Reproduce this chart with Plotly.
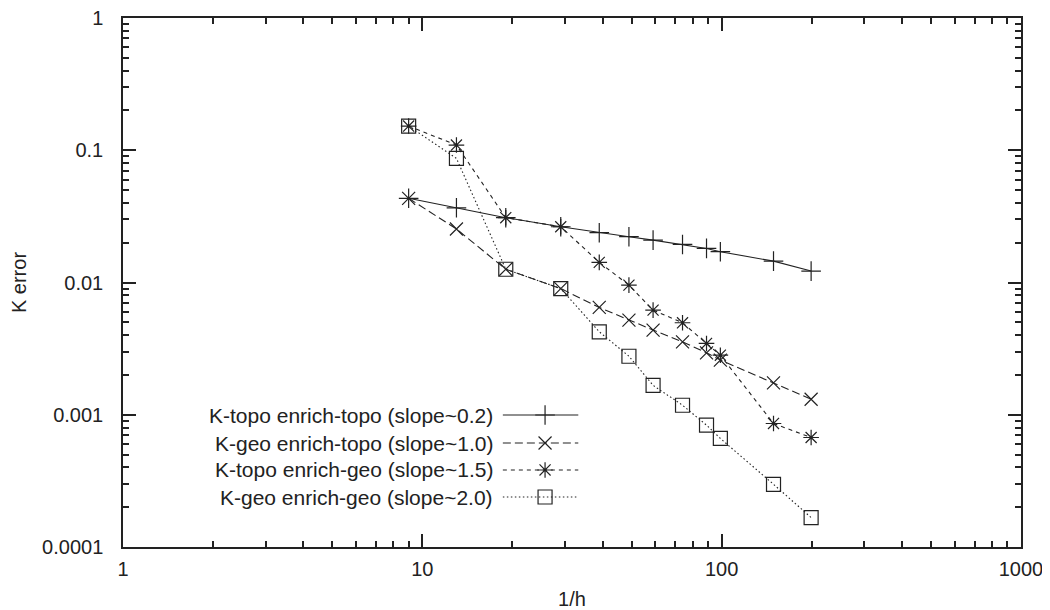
import plotly.graph_objects as go

inv_h = [9, 13, 19, 29, 39, 49, 59, 74, 89, 99, 149, 199]

topo_topo = [0.0433, 0.0367, 0.0309, 0.0264, 0.0238, 0.0222, 0.0209, 0.0194, 0.0181, 0.0171, 0.0145, 0.0122]
geo_topo = [0.0433, 0.0254, 0.0126, 0.0090, 0.00648, 0.0052, 0.00437, 0.00356, 0.00294, 0.00259, 0.00174, 0.00131]
topo_geo = [0.1524, 0.1095, 0.0309, 0.0264, 0.0142, 0.00956, 0.00618, 0.00496, 0.00346, 0.00282, 0.000859, 0.000673]
geo_geo = [0.1524, 0.0868, 0.0126, 0.0090, 0.00424, 0.00277, 0.00167, 0.00118, 0.000834, 0.000662, 0.000298, 0.000167]

names = [
    "K-topo enrich-topo (slope~0.2)",
    "K-geo enrich-topo (slope~1.0)",
    "K-topo enrich-geo (slope~1.5)",
    "K-geo enrich-geo (slope~2.0)",
]
series = [topo_topo, geo_topo, topo_geo, geo_geo]
symbols = ["cross-thin-open", "x-thin-open", "asterisk-open", "square-open"]
sizes = [14, 13, 13, 14]
dashes = ["solid", "8px,4px", "4px,4px", "1.5px,2.5px"]

y_ticks = [1, 0.1, 0.01, 0.001, 0.0001]
y_tick_text = ["1", "0.1", "0.01", "0.001", "0.0001"]
x_ticks = [1, 10, 100, 1000]
x_tick_text = ["1", "10", "100", "1000"]

INK = "#222222"
FONT = "Liberation Sans, Arial, Helvetica, sans-serif"

fig = go.Figure()
for name, ys, sym, sz, dash in zip(names, series, symbols, sizes, dashes):
    fig.add_trace(go.Scatter(
        x=inv_h, y=ys, name=name, mode="lines+markers",
        line=dict(color=INK, width=1.1, dash=dash),
        marker=dict(symbol=sym, size=sz, color=INK, line=dict(color=INK, width=1.2)),
        showlegend=False,
    ))

# custom legend (text right-aligned, sample on the right), on an overlay axis in plot fractions
leg_rows = [0.2495, 0.1966, 0.1456, 0.0945]
leg_line_x = [0.423, 0.507]
leg_mark_x = 0.470
leg_text_x = 0.414
for name, sym, sz, dash, yr in zip(names, symbols, sizes, dashes, leg_rows):
    fig.add_trace(go.Scatter(
        x=leg_line_x, y=[yr, yr], mode="lines", xaxis="x2", yaxis="y2",
        line=dict(color=INK, width=1.1, dash=dash), showlegend=False, hoverinfo="skip",
    ))
    fig.add_trace(go.Scatter(
        x=[leg_mark_x], y=[yr], mode="markers", xaxis="x2", yaxis="y2",
        marker=dict(symbol=sym, size=sz, color=INK, line=dict(color=INK, width=1.2)),
        showlegend=False, hoverinfo="skip",
    ))
    fig.add_annotation(
        x=leg_text_x, y=yr, xref="x2", yref="y2", text=name, showarrow=False,
        xanchor="right", yanchor="middle", font=dict(family=FONT, size=21, color=INK),
    )

minor_x = [k * 10 ** e for e in range(0, 3) for k in range(2, 10)]
minor_y = [k * 10.0 ** e for e in range(-4, 0) for k in range(2, 10)]

# page body has an 8px margin, so the figure is sized so its right/bottom edge meets the window edge
fig.update_layout(
    width=1042, height=602,
    margin=dict(l=115, r=29, t=10, b=63, autoexpand=False),
    plot_bgcolor="white", paper_bgcolor="white",
    font=dict(family=FONT, size=20, color=INK),
    xaxis=dict(
        type="log", range=[0, 3], tickmode="array", tickvals=x_ticks, ticktext=x_tick_text,
        ticks="inside", ticklen=13, tickwidth=1.5, tickcolor=INK,
        showline=True, linecolor=INK, linewidth=1.5, mirror="ticks",
        showgrid=False, zeroline=False, automargin=False,
        ticklabeloverflow="allow",
        minor=dict(tickmode="array", tickvals=minor_x, ticks="inside", ticklen=6,
                   tickwidth=1.5, tickcolor=INK, showgrid=False),
        title=dict(text="1/h", standoff=22, font=dict(size=20)),
        ticklabelstandoff=3,
    ),
    yaxis=dict(
        type="log", range=[-4, 0], tickmode="array", tickvals=y_ticks, ticktext=y_tick_text,
        ticks="inside", ticklen=13, tickwidth=1.5, tickcolor=INK,
        showline=True, linecolor=INK, linewidth=1.5, mirror="ticks",
        showgrid=False, zeroline=False, automargin=False,
        ticklabeloverflow="allow",
        minor=dict(tickmode="array", tickvals=minor_y, ticks="inside", ticklen=6,
                   tickwidth=1.5, tickcolor=INK, showgrid=False),
        title=dict(text="K error", standoff=13, font=dict(size=20)),
        ticklabelstandoff=14,
    ),
    xaxis2=dict(overlaying="x", range=[0, 1], visible=False, fixedrange=True),
    yaxis2=dict(overlaying="y", range=[0, 1], visible=False, fixedrange=True),
)

fig.write_html("out.html")
